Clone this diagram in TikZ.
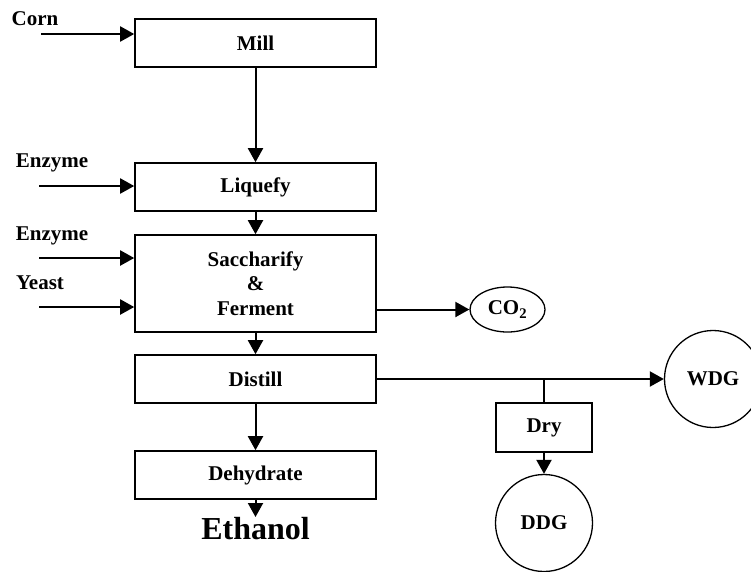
\documentclass[tikz,border=0pt]{standalone}
\usepackage{fontspec}
\setmainfont{Liberation Serif}
\usetikzlibrary{arrows.meta,shapes.geometric}
\begin{document}
\begin{tikzpicture}[x=1pt,y=-1pt,
  every node/.style={font=\fontsize{21}{23}\selectfont\bfseries, inner sep=0pt},
  procbox/.style={draw, line width=1.6pt, minimum width=241pt, minimum height=48pt},
  flow/.style={line width=2pt, -{Triangle[length=14pt,width=15pt]}},
  plain/.style={line width=2pt},
  product/.style={draw, circle, line width=1.3pt, minimum size=97pt},
  lbl/.style={anchor=center}]
\useasboundingbox (0,0) rectangle (751,571);
% boxes
\node[procbox] (mill) at (255.5,43) {Mill};
\node[procbox] (liq) at (255.5,187) {Liquefy};
\node[procbox, minimum height=97pt, align=center, font=\fontsize{21}{24.5}\selectfont\bfseries] (sac) at (255.5,283.5) {Saccharify\\\&\\Ferment};
\node[procbox] (dist) at (255.5,379) {Distill};
\node[procbox] (dehy) at (255.5,475) {Dehydrate};
\node[procbox, minimum width=96pt, minimum height=49pt] (dry) at (544,427.5) {Dry};
\node[draw, ellipse, line width=1.3pt, minimum width=75pt, minimum height=45pt] (co2) at (507.5,309.5) {CO\textsubscript{2}};
\node[product] (wdg) at (713,379) {WDG};
\node[product] (ddg) at (544,523) {DDG};
\node[font=\fontsize{32}{34}\selectfont\bfseries, anchor=north] (eth) at (255.5,517) {Ethanol};
% input labels
\node (corn) at (35,19) {Corn};
\node (enz1) at (52,163) {Enzyme};
\node (enz2) at (52,236) {Enzyme};
\node (yeast) at (40,283) {Yeast};
\coordinate (cornin) at (41,34);
\coordinate (enz1in) at (39,186);
\coordinate (enz2in) at (39,258);
\coordinate (yeastin) at (39,307);
\coordinate (branch) at (544,379);
% inputs
\draw[flow] (cornin) -- (cornin -| mill.west);
\draw[flow] (enz1in) -- (enz1in -| liq.west);
\draw[flow] (enz2in) -- (enz2in -| sac.west);
\draw[flow] (yeastin) -- (yeastin -| sac.west);
% main flow
\draw[flow] (mill) -- (liq);
\draw[flow] (liq) -- (sac);
\draw[flow] (sac) -- (dist);
\draw[flow] (dist) -- (dehy);
\draw[flow] (dehy.south) -- (eth.north);
\draw[flow] (sac.east |- co2) -- (co2);
\draw[flow] (dist) -- (wdg);
\draw[plain] (branch) -- (dry);
\draw[flow] (dry) -- (ddg);
\end{tikzpicture}
\end{document}
